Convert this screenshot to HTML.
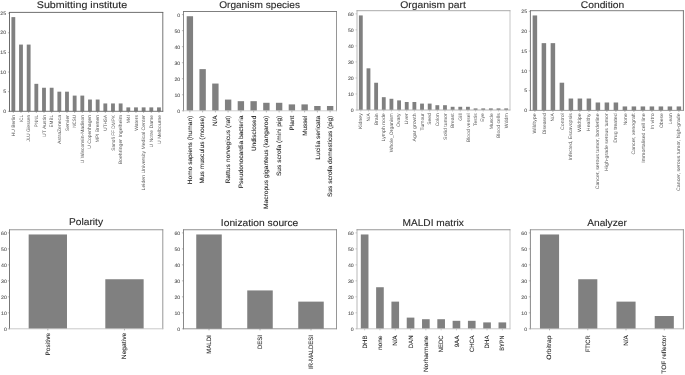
<!DOCTYPE html>
<html><head><meta charset="utf-8"><title>Dataset statistics</title>
<style>
html,body{margin:0;padding:0;background:#ffffff;}
body{width:685px;height:375px;overflow:hidden;}
svg{display:block;will-change:transform;opacity:0.999;}
svg text{font-family:"Liberation Sans",sans-serif;text-rendering:geometricPrecision;}
</style></head><body>
<svg width="685" height="375" viewBox="0 0 685 375">
<rect x="0" y="0" width="685" height="375" fill="#ffffff"/>
<g>
<g>
<rect x="11.42" y="17.11" width="3.83" height="94.19" fill="#808080"/>
<rect x="19.08" y="44.58" width="3.83" height="66.72" fill="#808080"/>
<rect x="26.75" y="44.58" width="3.83" height="66.72" fill="#808080"/>
<rect x="34.41" y="83.83" width="3.83" height="27.47" fill="#808080"/>
<rect x="42.08" y="87.75" width="3.83" height="23.55" fill="#808080"/>
<rect x="49.74" y="87.75" width="3.83" height="23.55" fill="#808080"/>
<rect x="57.41" y="91.68" width="3.83" height="19.62" fill="#808080"/>
<rect x="65.07" y="91.68" width="3.83" height="19.62" fill="#808080"/>
<rect x="72.74" y="95.60" width="3.83" height="15.70" fill="#808080"/>
<rect x="80.40" y="95.60" width="3.83" height="15.70" fill="#808080"/>
<rect x="88.07" y="99.53" width="3.83" height="11.77" fill="#808080"/>
<rect x="95.73" y="99.53" width="3.83" height="11.77" fill="#808080"/>
<rect x="103.40" y="103.45" width="3.83" height="7.85" fill="#808080"/>
<rect x="111.06" y="103.45" width="3.83" height="7.85" fill="#808080"/>
<rect x="118.73" y="103.45" width="3.83" height="7.85" fill="#808080"/>
<rect x="126.39" y="107.38" width="3.83" height="3.92" fill="#808080"/>
<rect x="134.06" y="107.38" width="3.83" height="3.92" fill="#808080"/>
<rect x="141.72" y="107.38" width="3.83" height="3.92" fill="#808080"/>
<rect x="149.39" y="107.38" width="3.83" height="3.92" fill="#808080"/>
<rect x="157.05" y="107.38" width="3.83" height="3.92" fill="#808080"/>
<line x1="9.50" y1="12.00" x2="9.50" y2="111.70" stroke="#5a5a5a" stroke-width="0.9"/>
<line x1="162.80" y1="12.00" x2="162.80" y2="111.70" stroke="#666666" stroke-width="0.9"/>
<line x1="9.10" y1="12.40" x2="163.20" y2="12.40" stroke="#606060" stroke-width="0.9"/>
<line x1="9.10" y1="111.30" x2="163.20" y2="111.30" stroke="#666666" stroke-width="0.9"/>
<line x1="7.90" y1="111.30" x2="9.50" y2="111.30" stroke="#6e6e6e" stroke-width="0.5"/>
<text x="6.20" y="112.97" font-size="4.89" text-anchor="end" textLength="2.91" lengthAdjust="spacingAndGlyphs" fill="#4c4c4c" stroke="#4c4c4c" stroke-width="0.06">0</text>
<line x1="7.90" y1="91.68" x2="9.50" y2="91.68" stroke="#6e6e6e" stroke-width="0.5"/>
<text x="6.20" y="93.35" font-size="4.89" text-anchor="end" textLength="2.91" lengthAdjust="spacingAndGlyphs" fill="#4c4c4c" stroke="#4c4c4c" stroke-width="0.06">5</text>
<line x1="7.90" y1="72.05" x2="9.50" y2="72.05" stroke="#6e6e6e" stroke-width="0.5"/>
<text x="6.20" y="73.72" font-size="4.89" text-anchor="end" textLength="5.82" lengthAdjust="spacingAndGlyphs" fill="#4c4c4c" stroke="#4c4c4c" stroke-width="0.06">10</text>
<line x1="7.90" y1="52.43" x2="9.50" y2="52.43" stroke="#6e6e6e" stroke-width="0.5"/>
<text x="6.20" y="54.10" font-size="4.89" text-anchor="end" textLength="5.82" lengthAdjust="spacingAndGlyphs" fill="#4c4c4c" stroke="#4c4c4c" stroke-width="0.06">15</text>
<line x1="7.90" y1="32.81" x2="9.50" y2="32.81" stroke="#6e6e6e" stroke-width="0.5"/>
<text x="6.20" y="34.48" font-size="4.89" text-anchor="end" textLength="5.82" lengthAdjust="spacingAndGlyphs" fill="#4c4c4c" stroke="#4c4c4c" stroke-width="0.06">20</text>
<line x1="7.90" y1="13.18" x2="9.50" y2="13.18" stroke="#6e6e6e" stroke-width="0.5"/>
<text x="6.20" y="14.85" font-size="4.89" text-anchor="end" textLength="5.82" lengthAdjust="spacingAndGlyphs" fill="#4c4c4c" stroke="#4c4c4c" stroke-width="0.06">25</text>
<line x1="13.33" y1="111.30" x2="13.33" y2="112.90" stroke="#6e6e6e" stroke-width="0.5"/>
<text transform="translate(13.33,115.00) rotate(-90)" x="0" y="1.70" font-size="4.89" text-anchor="end" textLength="21.50" lengthAdjust="spacingAndGlyphs" fill="#585858">HU Berlin</text>
<line x1="21.00" y1="111.30" x2="21.00" y2="112.90" stroke="#6e6e6e" stroke-width="0.5"/>
<text transform="translate(21.00,115.00) rotate(-90)" x="0" y="1.66" font-size="4.89" text-anchor="end" textLength="7.08" lengthAdjust="spacingAndGlyphs" fill="#585858">ICL</text>
<line x1="28.66" y1="111.30" x2="28.66" y2="112.90" stroke="#6e6e6e" stroke-width="0.5"/>
<text transform="translate(28.66,115.00) rotate(-90)" x="0" y="1.28" font-size="4.89" text-anchor="end" textLength="26.56" lengthAdjust="spacingAndGlyphs" fill="#585858">JLU Giessen</text>
<line x1="36.33" y1="111.30" x2="36.33" y2="112.90" stroke="#6e6e6e" stroke-width="0.5"/>
<text transform="translate(36.33,115.00) rotate(-90)" x="0" y="1.67" font-size="4.89" text-anchor="end" textLength="12.14" lengthAdjust="spacingAndGlyphs" fill="#585858">PNNL</text>
<line x1="43.99" y1="111.30" x2="43.99" y2="112.90" stroke="#6e6e6e" stroke-width="0.5"/>
<text transform="translate(43.99,115.00) rotate(-90)" x="0" y="1.70" font-size="4.89" text-anchor="end" textLength="21.95" lengthAdjust="spacingAndGlyphs" fill="#585858">UT Austin</text>
<line x1="51.66" y1="111.30" x2="51.66" y2="112.90" stroke="#6e6e6e" stroke-width="0.5"/>
<text transform="translate(51.66,115.00) rotate(-90)" x="0" y="1.67" font-size="4.89" text-anchor="end" textLength="12.51" lengthAdjust="spacingAndGlyphs" fill="#585858">EMBL</text>
<line x1="59.32" y1="111.30" x2="59.32" y2="112.90" stroke="#6e6e6e" stroke-width="0.5"/>
<text transform="translate(59.32,115.00) rotate(-90)" x="0" y="1.63" font-size="4.89" text-anchor="end" textLength="28.94" lengthAdjust="spacingAndGlyphs" fill="#585858">AstraZeneca</text>
<line x1="66.99" y1="111.30" x2="66.99" y2="112.90" stroke="#6e6e6e" stroke-width="0.5"/>
<text transform="translate(66.99,115.00) rotate(-90)" x="0" y="1.70" font-size="4.89" text-anchor="end" textLength="16.26" lengthAdjust="spacingAndGlyphs" fill="#585858">Servier</text>
<line x1="74.65" y1="111.30" x2="74.65" y2="112.90" stroke="#6e6e6e" stroke-width="0.5"/>
<text transform="translate(74.65,115.00) rotate(-90)" x="0" y="1.66" font-size="4.89" text-anchor="end" textLength="12.86" lengthAdjust="spacingAndGlyphs" fill="#585858">NCSU</text>
<line x1="82.32" y1="111.30" x2="82.32" y2="112.90" stroke="#6e6e6e" stroke-width="0.5"/>
<text transform="translate(82.32,115.00) rotate(-90)" x="0" y="1.70" font-size="4.89" text-anchor="end" textLength="48.26" lengthAdjust="spacingAndGlyphs" fill="#585858">U Wisconsin-Madison</text>
<line x1="89.98" y1="111.30" x2="89.98" y2="112.90" stroke="#6e6e6e" stroke-width="0.5"/>
<text transform="translate(89.98,115.00) rotate(-90)" x="0" y="1.26" font-size="4.89" text-anchor="end" textLength="33.70" lengthAdjust="spacingAndGlyphs" fill="#585858">U Copenhagen</text>
<line x1="97.65" y1="111.30" x2="97.65" y2="112.90" stroke="#6e6e6e" stroke-width="0.5"/>
<text transform="translate(97.65,115.00) rotate(-90)" x="0" y="1.63" font-size="4.89" text-anchor="end" textLength="27.38" lengthAdjust="spacingAndGlyphs" fill="#585858">MPI Bremen</text>
<line x1="105.31" y1="111.30" x2="105.31" y2="112.90" stroke="#6e6e6e" stroke-width="0.5"/>
<text transform="translate(105.31,115.00) rotate(-90)" x="0" y="1.66" font-size="4.89" text-anchor="end" textLength="15.68" lengthAdjust="spacingAndGlyphs" fill="#585858">UTHSA</text>
<line x1="112.98" y1="111.30" x2="112.98" y2="112.90" stroke="#6e6e6e" stroke-width="0.5"/>
<text transform="translate(112.98,115.00) rotate(-90)" x="0" y="1.70" font-size="4.89" text-anchor="end" textLength="35.65" lengthAdjust="spacingAndGlyphs" fill="#585858">Sanofi FF DMPK</text>
<line x1="120.64" y1="111.30" x2="120.64" y2="112.90" stroke="#6e6e6e" stroke-width="0.5"/>
<text transform="translate(120.64,115.00) rotate(-90)" x="0" y="1.26" font-size="4.89" text-anchor="end" textLength="49.38" lengthAdjust="spacingAndGlyphs" fill="#585858">Boehringer Ingelheim</text>
<line x1="128.31" y1="111.30" x2="128.31" y2="112.90" stroke="#6e6e6e" stroke-width="0.5"/>
<text transform="translate(128.31,115.00) rotate(-90)" x="0" y="1.67" font-size="4.89" text-anchor="end" textLength="8.20" lengthAdjust="spacingAndGlyphs" fill="#585858">M4I</text>
<line x1="135.97" y1="111.30" x2="135.97" y2="112.90" stroke="#6e6e6e" stroke-width="0.5"/>
<text transform="translate(135.97,115.00) rotate(-90)" x="0" y="1.63" font-size="4.89" text-anchor="end" textLength="15.89" lengthAdjust="spacingAndGlyphs" fill="#585858">Waters</text>
<line x1="143.64" y1="111.30" x2="143.64" y2="112.90" stroke="#6e6e6e" stroke-width="0.5"/>
<text transform="translate(143.64,115.00) rotate(-90)" x="0" y="1.26" font-size="4.89" text-anchor="end" textLength="75.46" lengthAdjust="spacingAndGlyphs" fill="#585858">Leiden University Medical Center</text>
<line x1="151.30" y1="111.30" x2="151.30" y2="112.90" stroke="#6e6e6e" stroke-width="0.5"/>
<text transform="translate(151.30,115.00) rotate(-90)" x="0" y="1.63" font-size="4.89" text-anchor="end" textLength="32.43" lengthAdjust="spacingAndGlyphs" fill="#585858">U Notre Dame</text>
<line x1="158.97" y1="111.30" x2="158.97" y2="112.90" stroke="#6e6e6e" stroke-width="0.5"/>
<text transform="translate(158.97,115.00) rotate(-90)" x="0" y="1.70" font-size="4.89" text-anchor="end" textLength="28.92" lengthAdjust="spacingAndGlyphs" fill="#585858">U Melbourne</text>
<text x="82.00" y="8.00" font-size="9.7" text-anchor="middle" textLength="90.45" lengthAdjust="spacingAndGlyphs" fill="#2a2a2a" stroke="#2a2a2a" stroke-width="0.12">Submitting institute</text>
</g>
<g>
<rect x="186.69" y="16.23" width="6.38" height="94.57" fill="#808080"/>
<rect x="199.44" y="69.12" width="6.38" height="41.68" fill="#808080"/>
<rect x="212.19" y="83.55" width="6.38" height="27.25" fill="#808080"/>
<rect x="224.94" y="99.58" width="6.38" height="11.22" fill="#808080"/>
<rect x="237.69" y="101.18" width="6.38" height="9.62" fill="#808080"/>
<rect x="250.44" y="101.18" width="6.38" height="9.62" fill="#808080"/>
<rect x="263.19" y="102.79" width="6.38" height="8.01" fill="#808080"/>
<rect x="275.94" y="102.79" width="6.38" height="8.01" fill="#808080"/>
<rect x="288.69" y="104.39" width="6.38" height="6.41" fill="#808080"/>
<rect x="301.44" y="104.39" width="6.38" height="6.41" fill="#808080"/>
<rect x="314.19" y="105.99" width="6.38" height="4.81" fill="#808080"/>
<rect x="326.94" y="105.99" width="6.38" height="4.81" fill="#808080"/>
<line x1="183.50" y1="11.10" x2="183.50" y2="111.20" stroke="#7c7c7c" stroke-width="0.9"/>
<line x1="336.50" y1="11.10" x2="336.50" y2="111.20" stroke="#8a8a8a" stroke-width="0.9"/>
<line x1="183.10" y1="11.50" x2="336.90" y2="11.50" stroke="#707070" stroke-width="0.9"/>
<line x1="183.10" y1="110.80" x2="336.90" y2="110.80" stroke="#cccccc" stroke-width="0.9"/>
<line x1="181.90" y1="110.80" x2="183.50" y2="110.80" stroke="#7a7a7a" stroke-width="0.5"/>
<text x="180.30" y="112.77" font-size="4.89" text-anchor="end" textLength="2.91" lengthAdjust="spacingAndGlyphs" fill="#4c4c4c" stroke="#4c4c4c" stroke-width="0.06">0</text>
<line x1="181.90" y1="94.77" x2="183.50" y2="94.77" stroke="#7a7a7a" stroke-width="0.5"/>
<text x="180.30" y="96.74" font-size="4.89" text-anchor="end" textLength="5.82" lengthAdjust="spacingAndGlyphs" fill="#4c4c4c" stroke="#4c4c4c" stroke-width="0.06">10</text>
<line x1="181.90" y1="78.74" x2="183.50" y2="78.74" stroke="#7a7a7a" stroke-width="0.5"/>
<text x="180.30" y="80.71" font-size="4.89" text-anchor="end" textLength="5.82" lengthAdjust="spacingAndGlyphs" fill="#4c4c4c" stroke="#4c4c4c" stroke-width="0.06">20</text>
<line x1="181.90" y1="62.71" x2="183.50" y2="62.71" stroke="#7a7a7a" stroke-width="0.5"/>
<text x="180.30" y="64.68" font-size="4.89" text-anchor="end" textLength="5.82" lengthAdjust="spacingAndGlyphs" fill="#4c4c4c" stroke="#4c4c4c" stroke-width="0.06">30</text>
<line x1="181.90" y1="46.68" x2="183.50" y2="46.68" stroke="#7a7a7a" stroke-width="0.5"/>
<text x="180.30" y="48.65" font-size="4.89" text-anchor="end" textLength="5.82" lengthAdjust="spacingAndGlyphs" fill="#4c4c4c" stroke="#4c4c4c" stroke-width="0.06">40</text>
<line x1="181.90" y1="30.65" x2="183.50" y2="30.65" stroke="#7a7a7a" stroke-width="0.5"/>
<text x="180.30" y="32.62" font-size="4.89" text-anchor="end" textLength="5.82" lengthAdjust="spacingAndGlyphs" fill="#4c4c4c" stroke="#4c4c4c" stroke-width="0.06">50</text>
<line x1="181.90" y1="14.63" x2="183.50" y2="14.63" stroke="#7a7a7a" stroke-width="0.5"/>
<text x="180.30" y="16.59" font-size="4.89" text-anchor="end" textLength="2.91" lengthAdjust="spacingAndGlyphs" fill="#4c4c4c" stroke="#4c4c4c" stroke-width="0.06">0</text>
<line x1="189.88" y1="110.80" x2="189.88" y2="112.40" stroke="#7a7a7a" stroke-width="0.5"/>
<text transform="translate(189.88,115.70) rotate(-90)" x="0" y="1.62" font-size="6.29" text-anchor="end" textLength="68.62" lengthAdjust="spacingAndGlyphs" fill="#262626" stroke="#262626" stroke-width="0.08">Homo sapiens (human)</text>
<line x1="202.62" y1="110.80" x2="202.62" y2="112.40" stroke="#7a7a7a" stroke-width="0.5"/>
<text transform="translate(202.62,115.70) rotate(-90)" x="0" y="1.85" font-size="6.29" text-anchor="end" textLength="67.82" lengthAdjust="spacingAndGlyphs" fill="#262626" stroke="#262626" stroke-width="0.08">Mus musculus (mouse)</text>
<line x1="215.38" y1="110.80" x2="215.38" y2="112.40" stroke="#7a7a7a" stroke-width="0.5"/>
<text transform="translate(215.38,115.70) rotate(-90)" x="0" y="1.87" font-size="6.29" text-anchor="end" textLength="10.40" lengthAdjust="spacingAndGlyphs" fill="#262626" stroke="#262626" stroke-width="0.08">N/A</text>
<line x1="228.12" y1="110.80" x2="228.12" y2="112.40" stroke="#7a7a7a" stroke-width="0.5"/>
<text transform="translate(228.12,115.70) rotate(-90)" x="0" y="1.62" font-size="6.29" text-anchor="end" textLength="67.84" lengthAdjust="spacingAndGlyphs" fill="#262626" stroke="#262626" stroke-width="0.08">Rattus norvegicus (rat)</text>
<line x1="240.88" y1="110.80" x2="240.88" y2="112.40" stroke="#7a7a7a" stroke-width="0.5"/>
<text transform="translate(240.88,115.70) rotate(-90)" x="0" y="2.19" font-size="6.29" text-anchor="end" textLength="72.64" lengthAdjust="spacingAndGlyphs" fill="#262626" stroke="#262626" stroke-width="0.08">Pseudonocardia bacteria</text>
<line x1="253.62" y1="110.80" x2="253.62" y2="112.40" stroke="#7a7a7a" stroke-width="0.5"/>
<text transform="translate(253.62,115.70) rotate(-90)" x="0" y="2.19" font-size="6.29" text-anchor="end" textLength="35.34" lengthAdjust="spacingAndGlyphs" fill="#262626" stroke="#262626" stroke-width="0.08">Undisclosed</text>
<line x1="266.38" y1="110.80" x2="266.38" y2="112.40" stroke="#7a7a7a" stroke-width="0.5"/>
<text transform="translate(266.38,115.70) rotate(-90)" x="0" y="1.62" font-size="6.29" text-anchor="end" textLength="93.24" lengthAdjust="spacingAndGlyphs" fill="#262626" stroke="#262626" stroke-width="0.08">Macropus giganteus (kangaroo)</text>
<line x1="279.12" y1="110.80" x2="279.12" y2="112.40" stroke="#7a7a7a" stroke-width="0.5"/>
<text transform="translate(279.12,115.70) rotate(-90)" x="0" y="1.62" font-size="6.29" text-anchor="end" textLength="60.39" lengthAdjust="spacingAndGlyphs" fill="#262626" stroke="#262626" stroke-width="0.08">Sus scrofa (mini pig)</text>
<line x1="291.88" y1="110.80" x2="291.88" y2="112.40" stroke="#7a7a7a" stroke-width="0.5"/>
<text transform="translate(291.88,115.70) rotate(-90)" x="0" y="2.19" font-size="6.29" text-anchor="end" textLength="14.81" lengthAdjust="spacingAndGlyphs" fill="#262626" stroke="#262626" stroke-width="0.08">Plant</text>
<line x1="304.62" y1="110.80" x2="304.62" y2="112.40" stroke="#7a7a7a" stroke-width="0.5"/>
<text transform="translate(304.62,115.70) rotate(-90)" x="0" y="2.19" font-size="6.29" text-anchor="end" textLength="20.18" lengthAdjust="spacingAndGlyphs" fill="#262626" stroke="#262626" stroke-width="0.08">Mussel</text>
<line x1="317.38" y1="110.80" x2="317.38" y2="112.40" stroke="#7a7a7a" stroke-width="0.5"/>
<text transform="translate(317.38,115.70) rotate(-90)" x="0" y="2.19" font-size="6.29" text-anchor="end" textLength="43.98" lengthAdjust="spacingAndGlyphs" fill="#262626" stroke="#262626" stroke-width="0.08">Lucilia sericata</text>
<line x1="330.12" y1="110.80" x2="330.12" y2="112.40" stroke="#7a7a7a" stroke-width="0.5"/>
<text transform="translate(330.12,115.70) rotate(-90)" x="0" y="1.62" font-size="6.29" text-anchor="end" textLength="81.37" lengthAdjust="spacingAndGlyphs" fill="#262626" stroke="#262626" stroke-width="0.08">Sus scrofa domesticus (pig)</text>
<text x="259.60" y="7.70" font-size="9.7" text-anchor="middle" textLength="80.88" lengthAdjust="spacingAndGlyphs" fill="#2a2a2a" stroke="#2a2a2a" stroke-width="0.12">Organism species</text>
</g>
<g>
<rect x="358.91" y="15.43" width="3.83" height="94.57" fill="#808080"/>
<rect x="366.56" y="68.32" width="3.83" height="41.68" fill="#808080"/>
<rect x="374.21" y="82.75" width="3.83" height="27.25" fill="#808080"/>
<rect x="381.86" y="97.18" width="3.83" height="12.82" fill="#808080"/>
<rect x="389.51" y="98.78" width="3.83" height="11.22" fill="#808080"/>
<rect x="397.16" y="100.38" width="3.83" height="9.62" fill="#808080"/>
<rect x="404.81" y="101.99" width="3.83" height="8.01" fill="#808080"/>
<rect x="412.46" y="101.99" width="3.83" height="8.01" fill="#808080"/>
<rect x="420.11" y="103.59" width="3.83" height="6.41" fill="#808080"/>
<rect x="427.76" y="103.59" width="3.83" height="6.41" fill="#808080"/>
<rect x="435.41" y="105.19" width="3.83" height="4.81" fill="#808080"/>
<rect x="443.06" y="105.19" width="3.83" height="4.81" fill="#808080"/>
<rect x="450.71" y="106.79" width="3.83" height="3.21" fill="#808080"/>
<rect x="458.36" y="106.79" width="3.83" height="3.21" fill="#808080"/>
<rect x="466.01" y="106.79" width="3.83" height="3.21" fill="#808080"/>
<rect x="473.66" y="108.40" width="3.83" height="1.60" fill="#808080"/>
<rect x="481.31" y="108.40" width="3.83" height="1.60" fill="#808080"/>
<rect x="488.96" y="108.40" width="3.83" height="1.60" fill="#808080"/>
<rect x="496.61" y="108.40" width="3.83" height="1.60" fill="#808080"/>
<rect x="504.26" y="108.40" width="3.83" height="1.60" fill="#808080"/>
<line x1="357.00" y1="10.30" x2="357.00" y2="110.40" stroke="#b0b0b0" stroke-width="0.9"/>
<line x1="510.00" y1="10.30" x2="510.00" y2="110.40" stroke="#c0c0c0" stroke-width="0.9"/>
<line x1="356.60" y1="10.70" x2="510.40" y2="10.70" stroke="#a0a0a0" stroke-width="0.9"/>
<line x1="356.60" y1="110.00" x2="510.40" y2="110.00" stroke="#b0b0b0" stroke-width="0.9"/>
<line x1="355.40" y1="110.00" x2="357.00" y2="110.00" stroke="#a8a8a8" stroke-width="0.5"/>
<text x="353.80" y="111.97" font-size="4.89" text-anchor="end" textLength="2.91" lengthAdjust="spacingAndGlyphs" fill="#4c4c4c" stroke="#4c4c4c" stroke-width="0.06">0</text>
<line x1="355.40" y1="93.97" x2="357.00" y2="93.97" stroke="#a8a8a8" stroke-width="0.5"/>
<text x="353.80" y="95.94" font-size="4.89" text-anchor="end" textLength="5.82" lengthAdjust="spacingAndGlyphs" fill="#4c4c4c" stroke="#4c4c4c" stroke-width="0.06">10</text>
<line x1="355.40" y1="77.94" x2="357.00" y2="77.94" stroke="#a8a8a8" stroke-width="0.5"/>
<text x="353.80" y="79.91" font-size="4.89" text-anchor="end" textLength="5.82" lengthAdjust="spacingAndGlyphs" fill="#4c4c4c" stroke="#4c4c4c" stroke-width="0.06">20</text>
<line x1="355.40" y1="61.91" x2="357.00" y2="61.91" stroke="#a8a8a8" stroke-width="0.5"/>
<text x="353.80" y="63.88" font-size="4.89" text-anchor="end" textLength="5.82" lengthAdjust="spacingAndGlyphs" fill="#4c4c4c" stroke="#4c4c4c" stroke-width="0.06">30</text>
<line x1="355.40" y1="45.88" x2="357.00" y2="45.88" stroke="#a8a8a8" stroke-width="0.5"/>
<text x="353.80" y="47.85" font-size="4.89" text-anchor="end" textLength="5.82" lengthAdjust="spacingAndGlyphs" fill="#4c4c4c" stroke="#4c4c4c" stroke-width="0.06">40</text>
<line x1="355.40" y1="29.85" x2="357.00" y2="29.85" stroke="#a8a8a8" stroke-width="0.5"/>
<text x="353.80" y="31.82" font-size="4.89" text-anchor="end" textLength="5.82" lengthAdjust="spacingAndGlyphs" fill="#4c4c4c" stroke="#4c4c4c" stroke-width="0.06">50</text>
<line x1="355.40" y1="13.83" x2="357.00" y2="13.83" stroke="#a8a8a8" stroke-width="0.5"/>
<text x="353.80" y="15.79" font-size="4.89" text-anchor="end" textLength="5.82" lengthAdjust="spacingAndGlyphs" fill="#4c4c4c" stroke="#4c4c4c" stroke-width="0.06">60</text>
<line x1="360.82" y1="110.00" x2="360.82" y2="111.60" stroke="#a8a8a8" stroke-width="0.5"/>
<text transform="translate(360.82,113.30) rotate(-90)" x="0" y="1.27" font-size="4.92" text-anchor="end" textLength="15.68" lengthAdjust="spacingAndGlyphs" fill="#585858">Kidney</text>
<line x1="368.48" y1="110.00" x2="368.48" y2="111.60" stroke="#a8a8a8" stroke-width="0.5"/>
<text transform="translate(368.48,113.30) rotate(-90)" x="0" y="1.46" font-size="4.92" text-anchor="end" textLength="8.14" lengthAdjust="spacingAndGlyphs" fill="#585858">N/A</text>
<line x1="376.12" y1="110.00" x2="376.12" y2="111.60" stroke="#a8a8a8" stroke-width="0.5"/>
<text transform="translate(376.12,113.30) rotate(-90)" x="0" y="1.72" font-size="4.92" text-anchor="end" textLength="12.06" lengthAdjust="spacingAndGlyphs" fill="#585858">Brain</text>
<line x1="383.77" y1="110.00" x2="383.77" y2="111.60" stroke="#a8a8a8" stroke-width="0.5"/>
<text transform="translate(383.77,113.30) rotate(-90)" x="0" y="1.27" font-size="4.92" text-anchor="end" textLength="28.12" lengthAdjust="spacingAndGlyphs" fill="#585858">Lymph node</text>
<line x1="391.43" y1="110.00" x2="391.43" y2="111.60" stroke="#a8a8a8" stroke-width="0.5"/>
<text transform="translate(391.43,113.30) rotate(-90)" x="0" y="1.21" font-size="4.92" text-anchor="end" textLength="38.93" lengthAdjust="spacingAndGlyphs" fill="#585858">Whole_Organism</text>
<line x1="399.07" y1="110.00" x2="399.07" y2="111.60" stroke="#a8a8a8" stroke-width="0.5"/>
<text transform="translate(399.07,113.30) rotate(-90)" x="0" y="1.23" font-size="4.92" text-anchor="end" textLength="13.78" lengthAdjust="spacingAndGlyphs" fill="#585858">Ovary</text>
<line x1="406.73" y1="110.00" x2="406.73" y2="111.60" stroke="#a8a8a8" stroke-width="0.5"/>
<text transform="translate(406.73,113.30) rotate(-90)" x="0" y="1.72" font-size="4.92" text-anchor="end" textLength="11.28" lengthAdjust="spacingAndGlyphs" fill="#585858">Liver</text>
<line x1="414.38" y1="110.00" x2="414.38" y2="111.60" stroke="#a8a8a8" stroke-width="0.5"/>
<text transform="translate(414.38,113.30) rotate(-90)" x="0" y="1.27" font-size="4.92" text-anchor="end" textLength="28.24" lengthAdjust="spacingAndGlyphs" fill="#585858">Agar growth</text>
<line x1="422.02" y1="110.00" x2="422.02" y2="111.60" stroke="#a8a8a8" stroke-width="0.5"/>
<text transform="translate(422.02,113.30) rotate(-90)" x="0" y="1.64" font-size="4.92" text-anchor="end" textLength="17.13" lengthAdjust="spacingAndGlyphs" fill="#585858">Tumour</text>
<line x1="429.68" y1="110.00" x2="429.68" y2="111.60" stroke="#a8a8a8" stroke-width="0.5"/>
<text transform="translate(429.68,113.30) rotate(-90)" x="0" y="1.72" font-size="4.92" text-anchor="end" textLength="11.50" lengthAdjust="spacingAndGlyphs" fill="#585858">Seed</text>
<line x1="437.32" y1="110.00" x2="437.32" y2="111.60" stroke="#a8a8a8" stroke-width="0.5"/>
<text transform="translate(437.32,113.30) rotate(-90)" x="0" y="1.72" font-size="4.92" text-anchor="end" textLength="13.03" lengthAdjust="spacingAndGlyphs" fill="#585858">Colon</text>
<line x1="444.98" y1="110.00" x2="444.98" y2="111.60" stroke="#a8a8a8" stroke-width="0.5"/>
<text transform="translate(444.98,113.30) rotate(-90)" x="0" y="1.72" font-size="4.92" text-anchor="end" textLength="26.58" lengthAdjust="spacingAndGlyphs" fill="#585858">Solid tumor</text>
<line x1="452.62" y1="110.00" x2="452.62" y2="111.60" stroke="#a8a8a8" stroke-width="0.5"/>
<text transform="translate(452.62,113.30) rotate(-90)" x="0" y="1.64" font-size="4.92" text-anchor="end" textLength="14.80" lengthAdjust="spacingAndGlyphs" fill="#585858">Breast</text>
<line x1="460.27" y1="110.00" x2="460.27" y2="111.60" stroke="#a8a8a8" stroke-width="0.5"/>
<text transform="translate(460.27,113.30) rotate(-90)" x="0" y="1.72" font-size="4.92" text-anchor="end" textLength="7.40" lengthAdjust="spacingAndGlyphs" fill="#585858">Gill</text>
<line x1="467.93" y1="110.00" x2="467.93" y2="111.60" stroke="#a8a8a8" stroke-width="0.5"/>
<text transform="translate(467.93,113.30) rotate(-90)" x="0" y="1.72" font-size="4.92" text-anchor="end" textLength="28.90" lengthAdjust="spacingAndGlyphs" fill="#585858">Blood vessel</text>
<line x1="475.57" y1="110.00" x2="475.57" y2="111.60" stroke="#a8a8a8" stroke-width="0.5"/>
<text transform="translate(475.57,113.30) rotate(-90)" x="0" y="1.72" font-size="4.92" text-anchor="end" textLength="12.73" lengthAdjust="spacingAndGlyphs" fill="#585858">Testis</text>
<line x1="483.23" y1="110.00" x2="483.23" y2="111.60" stroke="#a8a8a8" stroke-width="0.5"/>
<text transform="translate(483.23,113.30) rotate(-90)" x="0" y="1.20" font-size="4.92" text-anchor="end" textLength="8.46" lengthAdjust="spacingAndGlyphs" fill="#585858">Eye</text>
<line x1="490.88" y1="110.00" x2="490.88" y2="111.60" stroke="#a8a8a8" stroke-width="0.5"/>
<text transform="translate(490.88,113.30) rotate(-90)" x="0" y="1.72" font-size="4.92" text-anchor="end" textLength="15.92" lengthAdjust="spacingAndGlyphs" fill="#585858">Muscle</text>
<line x1="498.52" y1="110.00" x2="498.52" y2="111.60" stroke="#a8a8a8" stroke-width="0.5"/>
<text transform="translate(498.52,113.30) rotate(-90)" x="0" y="1.72" font-size="4.92" text-anchor="end" textLength="24.76" lengthAdjust="spacingAndGlyphs" fill="#585858">Blood cells</text>
<line x1="506.18" y1="110.00" x2="506.18" y2="111.60" stroke="#a8a8a8" stroke-width="0.5"/>
<text transform="translate(506.18,113.30) rotate(-90)" x="0" y="1.72" font-size="4.92" text-anchor="end" textLength="14.87" lengthAdjust="spacingAndGlyphs" fill="#585858">Wddm</text>
<text x="433.00" y="7.50" font-size="9.7" text-anchor="middle" textLength="65.55" lengthAdjust="spacingAndGlyphs" fill="#2a2a2a" stroke="#2a2a2a" stroke-width="0.12">Organism part</text>
</g>
<g>
<rect x="532.65" y="15.45" width="4.50" height="94.95" fill="#808080"/>
<rect x="541.65" y="43.14" width="4.50" height="67.26" fill="#808080"/>
<rect x="550.65" y="43.14" width="4.50" height="67.26" fill="#808080"/>
<rect x="559.65" y="82.71" width="4.50" height="27.69" fill="#808080"/>
<rect x="568.65" y="98.53" width="4.50" height="11.87" fill="#808080"/>
<rect x="577.65" y="98.53" width="4.50" height="11.87" fill="#808080"/>
<rect x="586.65" y="98.53" width="4.50" height="11.87" fill="#808080"/>
<rect x="595.65" y="102.49" width="4.50" height="7.91" fill="#808080"/>
<rect x="604.65" y="102.49" width="4.50" height="7.91" fill="#808080"/>
<rect x="613.65" y="102.49" width="4.50" height="7.91" fill="#808080"/>
<rect x="622.65" y="106.44" width="4.50" height="3.96" fill="#808080"/>
<rect x="631.65" y="106.44" width="4.50" height="3.96" fill="#808080"/>
<rect x="640.65" y="106.44" width="4.50" height="3.96" fill="#808080"/>
<rect x="649.65" y="106.44" width="4.50" height="3.96" fill="#808080"/>
<rect x="658.65" y="106.44" width="4.50" height="3.96" fill="#808080"/>
<rect x="667.65" y="106.44" width="4.50" height="3.96" fill="#808080"/>
<rect x="676.65" y="106.44" width="4.50" height="3.96" fill="#808080"/>
<line x1="530.40" y1="10.30" x2="530.40" y2="110.80" stroke="#686868" stroke-width="0.9"/>
<line x1="683.40" y1="10.30" x2="683.40" y2="110.80" stroke="#686868" stroke-width="0.9"/>
<line x1="530.00" y1="10.70" x2="683.80" y2="10.70" stroke="#707070" stroke-width="0.9"/>
<line x1="530.00" y1="110.40" x2="683.80" y2="110.40" stroke="#909090" stroke-width="0.9"/>
<line x1="528.80" y1="110.40" x2="530.40" y2="110.40" stroke="#7a7a7a" stroke-width="0.5"/>
<text x="527.20" y="112.07" font-size="4.89" text-anchor="end" textLength="2.91" lengthAdjust="spacingAndGlyphs" fill="#4c4c4c" stroke="#4c4c4c" stroke-width="0.06">0</text>
<line x1="528.80" y1="90.62" x2="530.40" y2="90.62" stroke="#7a7a7a" stroke-width="0.5"/>
<text x="527.20" y="92.29" font-size="4.89" text-anchor="end" textLength="2.91" lengthAdjust="spacingAndGlyphs" fill="#4c4c4c" stroke="#4c4c4c" stroke-width="0.06">5</text>
<line x1="528.80" y1="70.84" x2="530.40" y2="70.84" stroke="#7a7a7a" stroke-width="0.5"/>
<text x="527.20" y="72.50" font-size="4.89" text-anchor="end" textLength="5.82" lengthAdjust="spacingAndGlyphs" fill="#4c4c4c" stroke="#4c4c4c" stroke-width="0.06">10</text>
<line x1="528.80" y1="51.05" x2="530.40" y2="51.05" stroke="#7a7a7a" stroke-width="0.5"/>
<text x="527.20" y="52.72" font-size="4.89" text-anchor="end" textLength="5.82" lengthAdjust="spacingAndGlyphs" fill="#4c4c4c" stroke="#4c4c4c" stroke-width="0.06">15</text>
<line x1="528.80" y1="31.27" x2="530.40" y2="31.27" stroke="#7a7a7a" stroke-width="0.5"/>
<text x="527.20" y="32.94" font-size="4.89" text-anchor="end" textLength="5.82" lengthAdjust="spacingAndGlyphs" fill="#4c4c4c" stroke="#4c4c4c" stroke-width="0.06">20</text>
<line x1="528.80" y1="11.49" x2="530.40" y2="11.49" stroke="#7a7a7a" stroke-width="0.5"/>
<text x="527.20" y="13.16" font-size="4.89" text-anchor="end" textLength="5.82" lengthAdjust="spacingAndGlyphs" fill="#4c4c4c" stroke="#4c4c4c" stroke-width="0.06">25</text>
<line x1="534.90" y1="110.40" x2="534.90" y2="112.00" stroke="#7a7a7a" stroke-width="0.5"/>
<text transform="translate(534.90,113.30) rotate(-90)" x="0" y="1.27" font-size="4.92" text-anchor="end" textLength="20.20" lengthAdjust="spacingAndGlyphs" fill="#585858">Wildtype</text>
<line x1="543.90" y1="110.40" x2="543.90" y2="112.00" stroke="#7a7a7a" stroke-width="0.5"/>
<text transform="translate(543.90,113.30) rotate(-90)" x="0" y="1.72" font-size="4.92" text-anchor="end" textLength="21.01" lengthAdjust="spacingAndGlyphs" fill="#585858">Diseased</text>
<line x1="552.90" y1="110.40" x2="552.90" y2="112.00" stroke="#7a7a7a" stroke-width="0.5"/>
<text transform="translate(552.90,113.30) rotate(-90)" x="0" y="1.46" font-size="4.92" text-anchor="end" textLength="8.14" lengthAdjust="spacingAndGlyphs" fill="#585858">N/A</text>
<line x1="561.90" y1="110.40" x2="561.90" y2="112.00" stroke="#7a7a7a" stroke-width="0.5"/>
<text transform="translate(561.90,113.30) rotate(-90)" x="0" y="1.72" font-size="4.92" text-anchor="end" textLength="16.63" lengthAdjust="spacingAndGlyphs" fill="#585858">Control</text>
<line x1="570.90" y1="110.40" x2="570.90" y2="112.00" stroke="#7a7a7a" stroke-width="0.5"/>
<text transform="translate(570.90,113.30) rotate(-90)" x="0" y="1.27" font-size="4.92" text-anchor="end" textLength="46.91" lengthAdjust="spacingAndGlyphs" fill="#585858">Infected, Escavopsis</text>
<line x1="579.90" y1="110.40" x2="579.90" y2="112.00" stroke="#7a7a7a" stroke-width="0.5"/>
<text transform="translate(579.90,113.30) rotate(-90)" x="0" y="1.27" font-size="4.92" text-anchor="end" textLength="18.75" lengthAdjust="spacingAndGlyphs" fill="#585858">Wildtipe</text>
<line x1="588.90" y1="110.40" x2="588.90" y2="112.00" stroke="#7a7a7a" stroke-width="0.5"/>
<text transform="translate(588.90,113.30) rotate(-90)" x="0" y="1.27" font-size="4.92" text-anchor="end" textLength="17.83" lengthAdjust="spacingAndGlyphs" fill="#585858">Healthy</text>
<line x1="597.90" y1="110.40" x2="597.90" y2="112.00" stroke="#7a7a7a" stroke-width="0.5"/>
<text transform="translate(597.90,113.30) rotate(-90)" x="0" y="1.48" font-size="4.92" text-anchor="end" textLength="76.04" lengthAdjust="spacingAndGlyphs" fill="#585858">Cancer, serous tumor, borderline</text>
<line x1="606.90" y1="110.40" x2="606.90" y2="112.00" stroke="#7a7a7a" stroke-width="0.5"/>
<text transform="translate(606.90,113.30) rotate(-90)" x="0" y="1.27" font-size="4.92" text-anchor="end" textLength="57.59" lengthAdjust="spacingAndGlyphs" fill="#585858">High-grade serous tumor</text>
<line x1="615.90" y1="110.40" x2="615.90" y2="112.00" stroke="#7a7a7a" stroke-width="0.5"/>
<text transform="translate(615.90,113.30) rotate(-90)" x="0" y="1.27" font-size="4.92" text-anchor="end" textLength="29.53" lengthAdjust="spacingAndGlyphs" fill="#585858">Drug treated</text>
<line x1="624.90" y1="110.40" x2="624.90" y2="112.00" stroke="#7a7a7a" stroke-width="0.5"/>
<text transform="translate(624.90,113.30) rotate(-90)" x="0" y="1.64" font-size="4.92" text-anchor="end" textLength="12.00" lengthAdjust="spacingAndGlyphs" fill="#585858">None</text>
<line x1="633.90" y1="110.40" x2="633.90" y2="112.00" stroke="#7a7a7a" stroke-width="0.5"/>
<text transform="translate(633.90,113.30) rotate(-90)" x="0" y="1.27" font-size="4.92" text-anchor="end" textLength="41.23" lengthAdjust="spacingAndGlyphs" fill="#585858">Cancer, xenograft</text>
<line x1="642.90" y1="110.40" x2="642.90" y2="112.00" stroke="#7a7a7a" stroke-width="0.5"/>
<text transform="translate(642.90,113.30) rotate(-90)" x="0" y="1.72" font-size="4.92" text-anchor="end" textLength="49.49" lengthAdjust="spacingAndGlyphs" fill="#585858">Immortalised cell line</text>
<line x1="651.90" y1="110.40" x2="651.90" y2="112.00" stroke="#7a7a7a" stroke-width="0.5"/>
<text transform="translate(651.90,113.30) rotate(-90)" x="0" y="1.72" font-size="4.92" text-anchor="end" textLength="16.14" lengthAdjust="spacingAndGlyphs" fill="#585858">In vitro</text>
<line x1="660.90" y1="110.40" x2="660.90" y2="112.00" stroke="#7a7a7a" stroke-width="0.5"/>
<text transform="translate(660.90,113.30) rotate(-90)" x="0" y="1.72" font-size="4.92" text-anchor="end" textLength="14.60" lengthAdjust="spacingAndGlyphs" fill="#585858">Obese</text>
<line x1="669.90" y1="110.40" x2="669.90" y2="112.00" stroke="#7a7a7a" stroke-width="0.5"/>
<text transform="translate(669.90,113.30) rotate(-90)" x="0" y="1.64" font-size="4.92" text-anchor="end" textLength="11.05" lengthAdjust="spacingAndGlyphs" fill="#585858">Lean</text>
<line x1="678.90" y1="110.40" x2="678.90" y2="112.00" stroke="#7a7a7a" stroke-width="0.5"/>
<text transform="translate(678.90,113.30) rotate(-90)" x="0" y="1.27" font-size="4.92" text-anchor="end" textLength="77.63" lengthAdjust="spacingAndGlyphs" fill="#585858">Cancer, serous tumor, high-grade</text>
<text x="602.50" y="7.70" font-size="9.7" text-anchor="middle" textLength="43.43" lengthAdjust="spacingAndGlyphs" fill="#2a2a2a" stroke="#2a2a2a" stroke-width="0.12">Condition</text>
</g>
<g>
<rect x="28.66" y="234.47" width="38.33" height="94.33" fill="#808080"/>
<rect x="105.31" y="279.24" width="38.33" height="49.56" fill="#808080"/>
<line x1="9.50" y1="229.35" x2="9.50" y2="329.20" stroke="#686868" stroke-width="0.9"/>
<line x1="162.80" y1="229.35" x2="162.80" y2="329.20" stroke="#8a8a8a" stroke-width="0.9"/>
<line x1="9.10" y1="229.75" x2="163.20" y2="229.75" stroke="#8a8a8a" stroke-width="0.9"/>
<line x1="9.10" y1="328.80" x2="163.20" y2="328.80" stroke="#c4c4c4" stroke-width="0.9"/>
<line x1="7.90" y1="328.80" x2="9.50" y2="328.80" stroke="#7a7a7a" stroke-width="0.5"/>
<text x="6.90" y="330.77" font-size="4.89" text-anchor="end" textLength="2.91" lengthAdjust="spacingAndGlyphs" fill="#4c4c4c" stroke="#4c4c4c" stroke-width="0.06">0</text>
<line x1="7.90" y1="312.81" x2="9.50" y2="312.81" stroke="#7a7a7a" stroke-width="0.5"/>
<text x="6.90" y="314.78" font-size="4.89" text-anchor="end" textLength="5.82" lengthAdjust="spacingAndGlyphs" fill="#4c4c4c" stroke="#4c4c4c" stroke-width="0.06">10</text>
<line x1="7.90" y1="296.82" x2="9.50" y2="296.82" stroke="#7a7a7a" stroke-width="0.5"/>
<text x="6.90" y="298.79" font-size="4.89" text-anchor="end" textLength="5.82" lengthAdjust="spacingAndGlyphs" fill="#4c4c4c" stroke="#4c4c4c" stroke-width="0.06">20</text>
<line x1="7.90" y1="280.83" x2="9.50" y2="280.83" stroke="#7a7a7a" stroke-width="0.5"/>
<text x="6.90" y="282.80" font-size="4.89" text-anchor="end" textLength="5.82" lengthAdjust="spacingAndGlyphs" fill="#4c4c4c" stroke="#4c4c4c" stroke-width="0.06">30</text>
<line x1="7.90" y1="264.85" x2="9.50" y2="264.85" stroke="#7a7a7a" stroke-width="0.5"/>
<text x="6.90" y="266.81" font-size="4.89" text-anchor="end" textLength="5.82" lengthAdjust="spacingAndGlyphs" fill="#4c4c4c" stroke="#4c4c4c" stroke-width="0.06">40</text>
<line x1="7.90" y1="248.86" x2="9.50" y2="248.86" stroke="#7a7a7a" stroke-width="0.5"/>
<text x="6.90" y="250.82" font-size="4.89" text-anchor="end" textLength="5.82" lengthAdjust="spacingAndGlyphs" fill="#4c4c4c" stroke="#4c4c4c" stroke-width="0.06">50</text>
<line x1="7.90" y1="232.87" x2="9.50" y2="232.87" stroke="#7a7a7a" stroke-width="0.5"/>
<text x="6.90" y="234.84" font-size="4.89" text-anchor="end" textLength="5.82" lengthAdjust="spacingAndGlyphs" fill="#4c4c4c" stroke="#4c4c4c" stroke-width="0.06">60</text>
<line x1="47.83" y1="328.80" x2="47.83" y2="330.40" stroke="#7a7a7a" stroke-width="0.5"/>
<text transform="translate(47.83,332.80) rotate(-90)" x="0" y="2.19" font-size="6.29" text-anchor="end" textLength="22.67" lengthAdjust="spacingAndGlyphs" fill="#262626" stroke="#262626" stroke-width="0.08">Positive</text>
<line x1="124.48" y1="328.80" x2="124.48" y2="330.40" stroke="#7a7a7a" stroke-width="0.5"/>
<text transform="translate(124.48,332.80) rotate(-90)" x="0" y="1.62" font-size="6.29" text-anchor="end" textLength="26.39" lengthAdjust="spacingAndGlyphs" fill="#262626" stroke="#262626" stroke-width="0.08">Negative</text>
<text x="86.00" y="225.40" font-size="9.7" text-anchor="middle" textLength="34.06" lengthAdjust="spacingAndGlyphs" fill="#2a2a2a" stroke="#2a2a2a" stroke-width="0.12">Polarity</text>
</g>
<g>
<rect x="196.25" y="234.47" width="25.50" height="94.33" fill="#808080"/>
<rect x="247.25" y="290.43" width="25.50" height="38.37" fill="#808080"/>
<rect x="298.25" y="301.62" width="25.50" height="27.18" fill="#808080"/>
<line x1="183.50" y1="229.35" x2="183.50" y2="329.20" stroke="#7a7a7a" stroke-width="0.9"/>
<line x1="336.50" y1="229.35" x2="336.50" y2="329.20" stroke="#8a8a8a" stroke-width="0.9"/>
<line x1="183.10" y1="229.75" x2="336.90" y2="229.75" stroke="#808080" stroke-width="0.9"/>
<line x1="183.10" y1="328.80" x2="336.90" y2="328.80" stroke="#8c8c8c" stroke-width="0.9"/>
<line x1="181.90" y1="328.80" x2="183.50" y2="328.80" stroke="#7a7a7a" stroke-width="0.5"/>
<text x="180.30" y="330.77" font-size="4.89" text-anchor="end" textLength="2.91" lengthAdjust="spacingAndGlyphs" fill="#4c4c4c" stroke="#4c4c4c" stroke-width="0.06">0</text>
<line x1="181.90" y1="312.81" x2="183.50" y2="312.81" stroke="#7a7a7a" stroke-width="0.5"/>
<text x="180.30" y="314.78" font-size="4.89" text-anchor="end" textLength="5.82" lengthAdjust="spacingAndGlyphs" fill="#4c4c4c" stroke="#4c4c4c" stroke-width="0.06">10</text>
<line x1="181.90" y1="296.82" x2="183.50" y2="296.82" stroke="#7a7a7a" stroke-width="0.5"/>
<text x="180.30" y="298.79" font-size="4.89" text-anchor="end" textLength="5.82" lengthAdjust="spacingAndGlyphs" fill="#4c4c4c" stroke="#4c4c4c" stroke-width="0.06">20</text>
<line x1="181.90" y1="280.83" x2="183.50" y2="280.83" stroke="#7a7a7a" stroke-width="0.5"/>
<text x="180.30" y="282.80" font-size="4.89" text-anchor="end" textLength="5.82" lengthAdjust="spacingAndGlyphs" fill="#4c4c4c" stroke="#4c4c4c" stroke-width="0.06">30</text>
<line x1="181.90" y1="264.85" x2="183.50" y2="264.85" stroke="#7a7a7a" stroke-width="0.5"/>
<text x="180.30" y="266.81" font-size="4.89" text-anchor="end" textLength="5.82" lengthAdjust="spacingAndGlyphs" fill="#4c4c4c" stroke="#4c4c4c" stroke-width="0.06">40</text>
<line x1="181.90" y1="248.86" x2="183.50" y2="248.86" stroke="#7a7a7a" stroke-width="0.5"/>
<text x="180.30" y="250.82" font-size="4.89" text-anchor="end" textLength="5.82" lengthAdjust="spacingAndGlyphs" fill="#4c4c4c" stroke="#4c4c4c" stroke-width="0.06">50</text>
<line x1="181.90" y1="232.87" x2="183.50" y2="232.87" stroke="#7a7a7a" stroke-width="0.5"/>
<text x="180.30" y="234.84" font-size="4.89" text-anchor="end" textLength="5.82" lengthAdjust="spacingAndGlyphs" fill="#4c4c4c" stroke="#4c4c4c" stroke-width="0.06">60</text>
<line x1="209.00" y1="328.80" x2="209.00" y2="330.40" stroke="#7a7a7a" stroke-width="0.5"/>
<text transform="translate(209.00,335.20) rotate(-90)" x="0" y="2.14" font-size="6.29" text-anchor="end" textLength="18.63" lengthAdjust="spacingAndGlyphs" fill="#262626" stroke="#262626" stroke-width="0.08">MALDI</text>
<line x1="260.00" y1="328.80" x2="260.00" y2="330.40" stroke="#7a7a7a" stroke-width="0.5"/>
<text transform="translate(260.00,335.20) rotate(-90)" x="0" y="2.14" font-size="6.29" text-anchor="end" textLength="13.71" lengthAdjust="spacingAndGlyphs" fill="#262626" stroke="#262626" stroke-width="0.08">DESI</text>
<line x1="311.00" y1="328.80" x2="311.00" y2="330.40" stroke="#7a7a7a" stroke-width="0.5"/>
<text transform="translate(311.00,335.20) rotate(-90)" x="0" y="2.14" font-size="6.29" text-anchor="end" textLength="33.78" lengthAdjust="spacingAndGlyphs" fill="#262626" stroke="#262626" stroke-width="0.08">IR-MALDESI</text>
<text x="259.60" y="225.50" font-size="9.7" text-anchor="middle" textLength="77.44" lengthAdjust="spacingAndGlyphs" fill="#2a2a2a" stroke="#2a2a2a" stroke-width="0.12">Ionization source</text>
</g>
<g>
<rect x="360.82" y="234.47" width="7.65" height="94.33" fill="#808080"/>
<rect x="376.12" y="287.23" width="7.65" height="41.57" fill="#808080"/>
<rect x="391.43" y="301.62" width="7.65" height="27.18" fill="#808080"/>
<rect x="406.73" y="317.61" width="7.65" height="11.19" fill="#808080"/>
<rect x="422.03" y="319.21" width="7.65" height="9.59" fill="#808080"/>
<rect x="437.32" y="319.21" width="7.65" height="9.59" fill="#808080"/>
<rect x="452.62" y="320.81" width="7.65" height="7.99" fill="#808080"/>
<rect x="467.93" y="320.81" width="7.65" height="7.99" fill="#808080"/>
<rect x="483.23" y="322.40" width="7.65" height="6.40" fill="#808080"/>
<rect x="498.53" y="322.40" width="7.65" height="6.40" fill="#808080"/>
<line x1="357.00" y1="229.35" x2="357.00" y2="329.20" stroke="#b0b0b0" stroke-width="0.9"/>
<line x1="510.00" y1="229.35" x2="510.00" y2="329.20" stroke="#c0c0c0" stroke-width="0.9"/>
<line x1="356.60" y1="229.75" x2="510.40" y2="229.75" stroke="#8a8a8a" stroke-width="0.9"/>
<line x1="356.60" y1="328.80" x2="510.40" y2="328.80" stroke="#c4c4c4" stroke-width="0.9"/>
<line x1="355.40" y1="328.80" x2="357.00" y2="328.80" stroke="#a0a0a0" stroke-width="0.5"/>
<text x="353.80" y="330.77" font-size="4.89" text-anchor="end" textLength="2.91" lengthAdjust="spacingAndGlyphs" fill="#4c4c4c" stroke="#4c4c4c" stroke-width="0.06">0</text>
<line x1="355.40" y1="312.81" x2="357.00" y2="312.81" stroke="#a0a0a0" stroke-width="0.5"/>
<text x="353.80" y="314.78" font-size="4.89" text-anchor="end" textLength="5.82" lengthAdjust="spacingAndGlyphs" fill="#4c4c4c" stroke="#4c4c4c" stroke-width="0.06">10</text>
<line x1="355.40" y1="296.82" x2="357.00" y2="296.82" stroke="#a0a0a0" stroke-width="0.5"/>
<text x="353.80" y="298.79" font-size="4.89" text-anchor="end" textLength="5.82" lengthAdjust="spacingAndGlyphs" fill="#4c4c4c" stroke="#4c4c4c" stroke-width="0.06">20</text>
<line x1="355.40" y1="280.83" x2="357.00" y2="280.83" stroke="#a0a0a0" stroke-width="0.5"/>
<text x="353.80" y="282.80" font-size="4.89" text-anchor="end" textLength="5.82" lengthAdjust="spacingAndGlyphs" fill="#4c4c4c" stroke="#4c4c4c" stroke-width="0.06">30</text>
<line x1="355.40" y1="264.85" x2="357.00" y2="264.85" stroke="#a0a0a0" stroke-width="0.5"/>
<text x="353.80" y="266.81" font-size="4.89" text-anchor="end" textLength="5.82" lengthAdjust="spacingAndGlyphs" fill="#4c4c4c" stroke="#4c4c4c" stroke-width="0.06">40</text>
<line x1="355.40" y1="248.86" x2="357.00" y2="248.86" stroke="#a0a0a0" stroke-width="0.5"/>
<text x="353.80" y="250.82" font-size="4.89" text-anchor="end" textLength="5.82" lengthAdjust="spacingAndGlyphs" fill="#4c4c4c" stroke="#4c4c4c" stroke-width="0.06">50</text>
<line x1="355.40" y1="232.87" x2="357.00" y2="232.87" stroke="#a0a0a0" stroke-width="0.5"/>
<text x="353.80" y="234.84" font-size="4.89" text-anchor="end" textLength="5.82" lengthAdjust="spacingAndGlyphs" fill="#4c4c4c" stroke="#4c4c4c" stroke-width="0.06">60</text>
<line x1="364.65" y1="328.80" x2="364.65" y2="330.40" stroke="#a0a0a0" stroke-width="0.5"/>
<text transform="translate(364.65,335.50) rotate(-90)" x="0" y="2.13" font-size="6.26" text-anchor="end" textLength="12.92" lengthAdjust="spacingAndGlyphs" fill="#262626" stroke="#262626" stroke-width="0.08">DHB</text>
<line x1="379.95" y1="328.80" x2="379.95" y2="330.40" stroke="#a0a0a0" stroke-width="0.5"/>
<text transform="translate(379.95,335.50) rotate(-90)" x="0" y="1.60" font-size="6.26" text-anchor="end" textLength="14.59" lengthAdjust="spacingAndGlyphs" fill="#262626" stroke="#262626" stroke-width="0.08">none</text>
<line x1="395.25" y1="328.80" x2="395.25" y2="330.40" stroke="#a0a0a0" stroke-width="0.5"/>
<text transform="translate(395.25,335.50) rotate(-90)" x="0" y="1.86" font-size="6.26" text-anchor="end" textLength="10.35" lengthAdjust="spacingAndGlyphs" fill="#262626" stroke="#262626" stroke-width="0.08">N/A</text>
<line x1="410.55" y1="328.80" x2="410.55" y2="330.40" stroke="#a0a0a0" stroke-width="0.5"/>
<text transform="translate(410.55,335.50) rotate(-90)" x="0" y="2.13" font-size="6.26" text-anchor="end" textLength="12.78" lengthAdjust="spacingAndGlyphs" fill="#262626" stroke="#262626" stroke-width="0.08">DAN</text>
<line x1="425.85" y1="328.80" x2="425.85" y2="330.40" stroke="#a0a0a0" stroke-width="0.5"/>
<text transform="translate(425.85,335.50) rotate(-90)" x="0" y="2.18" font-size="6.26" text-anchor="end" textLength="36.44" lengthAdjust="spacingAndGlyphs" fill="#262626" stroke="#262626" stroke-width="0.08">Norharmane</text>
<line x1="441.15" y1="328.80" x2="441.15" y2="330.40" stroke="#a0a0a0" stroke-width="0.5"/>
<text transform="translate(441.15,335.50) rotate(-90)" x="0" y="2.13" font-size="6.26" text-anchor="end" textLength="16.66" lengthAdjust="spacingAndGlyphs" fill="#262626" stroke="#262626" stroke-width="0.08">NEDC</text>
<line x1="456.45" y1="328.80" x2="456.45" y2="330.40" stroke="#a0a0a0" stroke-width="0.5"/>
<text transform="translate(456.45,335.50) rotate(-90)" x="0" y="2.13" font-size="6.26" text-anchor="end" textLength="11.89" lengthAdjust="spacingAndGlyphs" fill="#262626" stroke="#262626" stroke-width="0.08">9AA</text>
<line x1="471.75" y1="328.80" x2="471.75" y2="330.40" stroke="#a0a0a0" stroke-width="0.5"/>
<text transform="translate(471.75,335.50) rotate(-90)" x="0" y="2.13" font-size="6.26" text-anchor="end" textLength="16.57" lengthAdjust="spacingAndGlyphs" fill="#262626" stroke="#262626" stroke-width="0.08">CHCA</text>
<line x1="487.05" y1="328.80" x2="487.05" y2="330.40" stroke="#a0a0a0" stroke-width="0.5"/>
<text transform="translate(487.05,335.50) rotate(-90)" x="0" y="2.13" font-size="6.26" text-anchor="end" textLength="12.91" lengthAdjust="spacingAndGlyphs" fill="#262626" stroke="#262626" stroke-width="0.08">DHA</text>
<line x1="502.35" y1="328.80" x2="502.35" y2="330.40" stroke="#a0a0a0" stroke-width="0.5"/>
<text transform="translate(502.35,335.50) rotate(-90)" x="0" y="2.13" font-size="6.26" text-anchor="end" textLength="15.17" lengthAdjust="spacingAndGlyphs" fill="#262626" stroke="#262626" stroke-width="0.08">BYPN</text>
<text x="433.20" y="225.50" font-size="9.7" text-anchor="middle" textLength="61.39" lengthAdjust="spacingAndGlyphs" fill="#2a2a2a" stroke="#2a2a2a" stroke-width="0.12">MALDI matrix</text>
</g>
<g>
<rect x="539.96" y="234.47" width="19.12" height="94.33" fill="#808080"/>
<rect x="578.21" y="279.24" width="19.12" height="49.56" fill="#808080"/>
<rect x="616.46" y="301.62" width="19.12" height="27.18" fill="#808080"/>
<rect x="654.71" y="316.01" width="19.12" height="12.79" fill="#808080"/>
<line x1="530.40" y1="229.35" x2="530.40" y2="329.20" stroke="#7a7a7a" stroke-width="0.9"/>
<line x1="683.40" y1="229.35" x2="683.40" y2="329.20" stroke="#8a8a8a" stroke-width="0.9"/>
<line x1="530.00" y1="229.75" x2="683.80" y2="229.75" stroke="#909090" stroke-width="0.9"/>
<line x1="530.00" y1="328.80" x2="683.80" y2="328.80" stroke="#b4b4b4" stroke-width="0.9"/>
<line x1="528.80" y1="328.80" x2="530.40" y2="328.80" stroke="#7a7a7a" stroke-width="0.5"/>
<text x="527.20" y="330.77" font-size="4.89" text-anchor="end" textLength="2.91" lengthAdjust="spacingAndGlyphs" fill="#4c4c4c" stroke="#4c4c4c" stroke-width="0.06">0</text>
<line x1="528.80" y1="312.81" x2="530.40" y2="312.81" stroke="#7a7a7a" stroke-width="0.5"/>
<text x="527.20" y="314.78" font-size="4.89" text-anchor="end" textLength="5.82" lengthAdjust="spacingAndGlyphs" fill="#4c4c4c" stroke="#4c4c4c" stroke-width="0.06">10</text>
<line x1="528.80" y1="296.82" x2="530.40" y2="296.82" stroke="#7a7a7a" stroke-width="0.5"/>
<text x="527.20" y="298.79" font-size="4.89" text-anchor="end" textLength="5.82" lengthAdjust="spacingAndGlyphs" fill="#4c4c4c" stroke="#4c4c4c" stroke-width="0.06">20</text>
<line x1="528.80" y1="280.83" x2="530.40" y2="280.83" stroke="#7a7a7a" stroke-width="0.5"/>
<text x="527.20" y="282.80" font-size="4.89" text-anchor="end" textLength="5.82" lengthAdjust="spacingAndGlyphs" fill="#4c4c4c" stroke="#4c4c4c" stroke-width="0.06">30</text>
<line x1="528.80" y1="264.85" x2="530.40" y2="264.85" stroke="#7a7a7a" stroke-width="0.5"/>
<text x="527.20" y="266.81" font-size="4.89" text-anchor="end" textLength="5.82" lengthAdjust="spacingAndGlyphs" fill="#4c4c4c" stroke="#4c4c4c" stroke-width="0.06">40</text>
<line x1="528.80" y1="248.86" x2="530.40" y2="248.86" stroke="#7a7a7a" stroke-width="0.5"/>
<text x="527.20" y="250.82" font-size="4.89" text-anchor="end" textLength="5.82" lengthAdjust="spacingAndGlyphs" fill="#4c4c4c" stroke="#4c4c4c" stroke-width="0.06">50</text>
<line x1="528.80" y1="232.87" x2="530.40" y2="232.87" stroke="#7a7a7a" stroke-width="0.5"/>
<text x="527.20" y="234.84" font-size="4.89" text-anchor="end" textLength="5.82" lengthAdjust="spacingAndGlyphs" fill="#4c4c4c" stroke="#4c4c4c" stroke-width="0.06">60</text>
<line x1="549.52" y1="328.80" x2="549.52" y2="330.40" stroke="#7a7a7a" stroke-width="0.5"/>
<text transform="translate(549.52,335.40) rotate(-90)" x="0" y="1.62" font-size="6.29" text-anchor="end" textLength="24.47" lengthAdjust="spacingAndGlyphs" fill="#262626" stroke="#262626" stroke-width="0.08">Orbitrap</text>
<line x1="587.77" y1="328.80" x2="587.77" y2="330.40" stroke="#7a7a7a" stroke-width="0.5"/>
<text transform="translate(587.77,335.40) rotate(-90)" x="0" y="2.14" font-size="6.29" text-anchor="end" textLength="16.80" lengthAdjust="spacingAndGlyphs" fill="#262626" stroke="#262626" stroke-width="0.08">FTICR</text>
<line x1="626.02" y1="328.80" x2="626.02" y2="330.40" stroke="#7a7a7a" stroke-width="0.5"/>
<text transform="translate(626.02,335.40) rotate(-90)" x="0" y="1.87" font-size="6.29" text-anchor="end" textLength="10.40" lengthAdjust="spacingAndGlyphs" fill="#262626" stroke="#262626" stroke-width="0.08">N/A</text>
<line x1="664.27" y1="328.80" x2="664.27" y2="330.40" stroke="#7a7a7a" stroke-width="0.5"/>
<text transform="translate(664.27,335.40) rotate(-90)" x="0" y="2.19" font-size="6.29" text-anchor="end" textLength="38.25" lengthAdjust="spacingAndGlyphs" fill="#262626" stroke="#262626" stroke-width="0.08">TOF reflector</text>
<text x="607.00" y="225.50" font-size="9.7" text-anchor="middle" textLength="39.60" lengthAdjust="spacingAndGlyphs" fill="#2a2a2a" stroke="#2a2a2a" stroke-width="0.12">Analyzer</text>
</g>
</g>
</svg>
</body></html>
